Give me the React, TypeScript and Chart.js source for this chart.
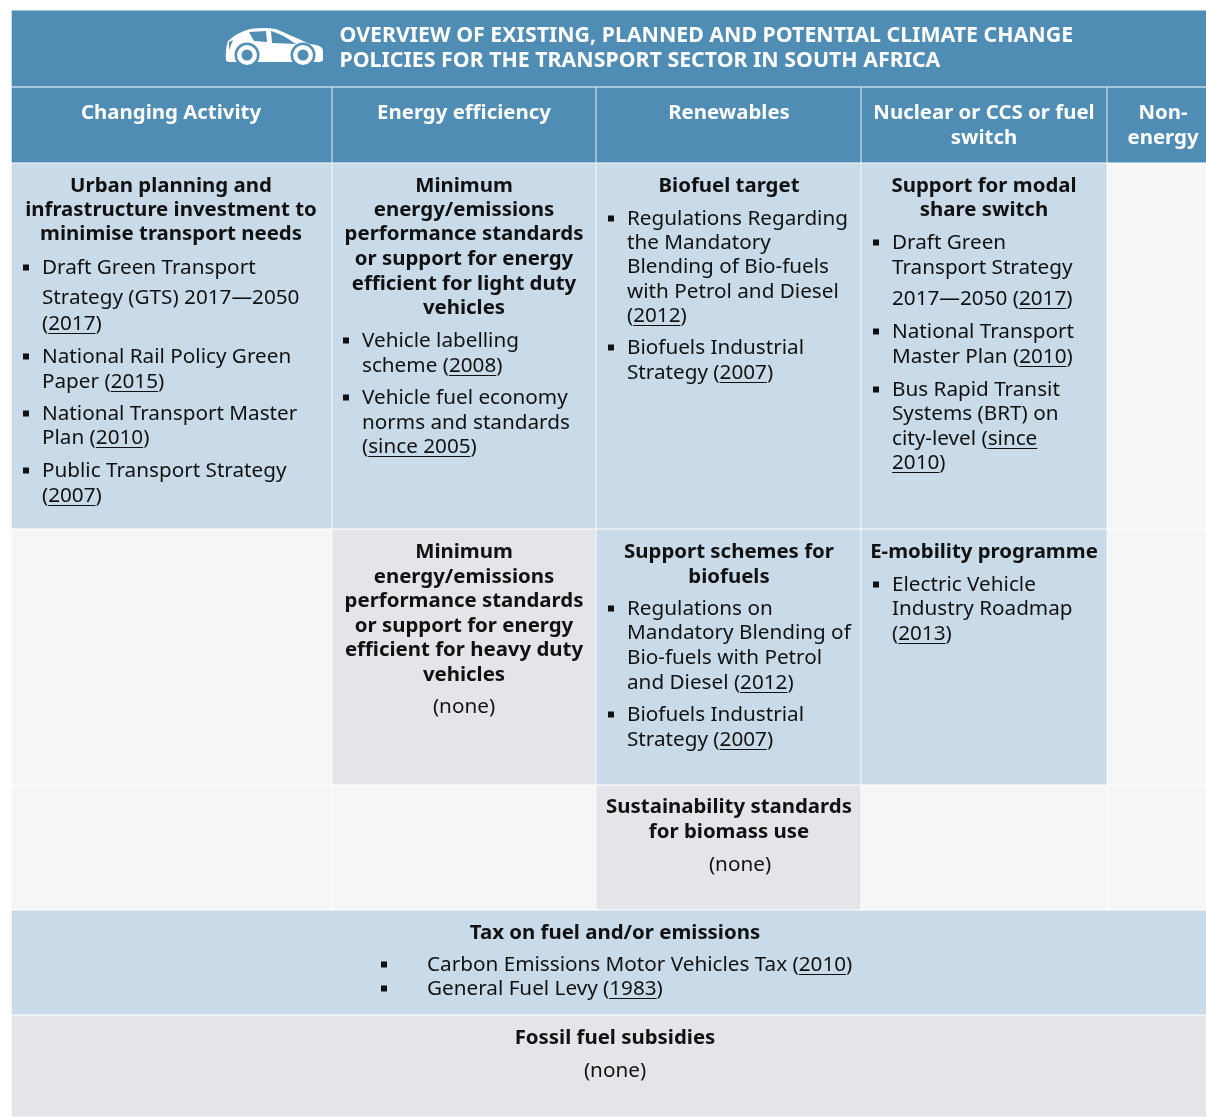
import React, { useEffect, useRef } from "react";
import { Chart, registerables } from "chart.js";

Chart.register(...registerables);

// ---------- content ----------
const titleLines = [
  "OVERVIEW OF EXISTING, PLANNED AND POTENTIAL CLIMATE CHANGE",
  "POLICIES FOR THE TRANSPORT SECTOR IN SOUTH AFRICA",
];
const columnHeads = [
  ["Changing Activity"],
  ["Energy efficiency"],
  ["Renewables"],
  ["Nuclear or CCS or fuel", "switch"],
  ["Non-", "energy"],
];
// Square brackets mark the underlined part of a line; a leading "* " marks a bullet.
const urbanPlanning = [
  "Urban planning and", "infrastructure investment to", "minimise transport needs",
  "* Draft Green Transport", "Strategy (GTS) 2017—2050", "([2017])",
  "* National Rail Policy Green", "Paper ([2015])",
  "* National Transport Master", "Plan ([2010])",
  "* Public Transport Strategy", "([2007])",
];
const lightDuty = [
  "Minimum", "energy/emissions", "performance standards", "or support for energy", "efficient for light duty", "vehicles",
  "* Vehicle labelling", "scheme ([2008])",
  "* Vehicle fuel economy", "norms and standards", "([since 2005])",
];
const biofuelTarget = [
  "Biofuel target",
  "* Regulations Regarding", "the Mandatory", "Blending of Bio-fuels", "with Petrol and Diesel", "([2012])",
  "* Biofuels Industrial", "Strategy ([2007])",
];
const modalShare = [
  "Support for modal", "share switch",
  "* Draft Green", "Transport Strategy", "2017—2050 ([2017])",
  "* National Transport", "Master Plan ([2010])",
  "* Bus Rapid Transit", "Systems (BRT) on", "city-level ([since]", "[2010])",
];
const heavyDuty = [
  "Minimum", "energy/emissions", "performance standards", "or support for energy", "efficient for heavy duty", "vehicles",
  "(none)",
];
const biofuelSupport = [
  "Support schemes for", "biofuels",
  "* Regulations on", "Mandatory Blending of", "Bio-fuels with Petrol", "and Diesel ([2012])",
  "* Biofuels Industrial", "Strategy ([2007])",
];
const eMobility = ["E-mobility programme", "* Electric Vehicle", "Industry Roadmap", "([2013])"];
const biomass = ["Sustainability standards", "for biomass use", "(none)"];
const fuelTax = ["Tax on fuel and/or emissions", "* Carbon Emissions Motor Vehicles Tax ([2010])", "* General Fuel Levy ([1983])"];
const fossilSubsidies = ["Fossil fuel subsidies", "(none)"];

// Cell status by row: H header, E existing, N none, B blank; each entry is [status, column span].
const rowCells: [string, number][][] = [
  [["H", 5]],
  [["H", 1], ["H", 1], ["H", 1], ["H", 1], ["H", 1]],
  [["E", 1], ["E", 1], ["E", 1], ["E", 1], ["B", 1]],
  [["B", 1], ["N", 1], ["E", 1], ["E", 1], ["B", 1]],
  [["B", 1], ["B", 1], ["N", 1], ["B", 1], ["B", 1]],
  [["E", 5]],
  [["N", 5]],
];

// ---------- layout and style ----------
const colEdges = [12, 332, 596, 861, 1107, 1206];
const rowEdges = [10, 87, 163, 529, 785, 910, 1015, 1117];
const FILL: Record<string, string> = { H: "#4f8db5", E: "#c9dbe8", N: "#e4e5e8", B: "#f5f7f7" };
const FONT = '"Noto Sans"';
const BODY = `400 20.7px ${FONT}`;
const BOLD = `700 20.4px ${FONT}`;
const INK = "#111111";

type Block = { lines: string[]; cx: number; boldCount: number; ys: number[]; textX?: number; bulletX?: number; normalCx?: number };
const blocks: Block[] = [
  { lines: urbanPlanning, cx: 171, boldCount: 3, textX: 42, bulletX: 26, ys: [185, 209, 233, 267, 297, 323, 356, 381, 413, 437, 470, 495] },
  { lines: lightDuty, cx: 464, boldCount: 6, textX: 362, bulletX: 346, ys: [185, 209, 233, 258, 283, 307, 340, 365, 397, 422, 446] },
  { lines: biofuelTarget, cx: 729, boldCount: 1, textX: 627, bulletX: 611, ys: [185, 218, 242, 266, 291, 315, 347, 372] },
  { lines: modalShare, cx: 984, boldCount: 2, textX: 892, bulletX: 876, ys: [185, 209, 242, 267, 298, 331, 356, 389, 413, 438, 462] },
  { lines: heavyDuty, cx: 464, boldCount: 6, ys: [551, 576, 600, 625, 649, 674, 706] },
  { lines: biofuelSupport, cx: 729, boldCount: 2, textX: 627, bulletX: 611, ys: [551, 576, 608, 632, 657, 682, 714, 739] },
  { lines: eMobility, cx: 984, boldCount: 1, textX: 892, bulletX: 876, ys: [551, 584, 608, 633] },
  { lines: biomass, cx: 729, boldCount: 2, normalCx: 740, ys: [806, 831, 864] },
  { lines: fuelTax, cx: 615, boldCount: 1, textX: 427, bulletX: 384, ys: [932, 964, 988] },
  { lines: fossilSubsidies, cx: 615, boldCount: 1, ys: [1037, 1070] },
];
const headY = [112, 137];
const headCx = [171, 464, 729, 984, 1163];
const titleX = 339.5;
const titleY = [35.5, 60.5];
const TEXT_NUDGE = 1;

// One dataset per table row: every cell is a floating horizontal bar on the shared scales.
function buildDatasets() {
  return rowCells.map((cells, r) => {
    let col = 0;
    const data: { x: [number, number]; y: number }[] = [];
    const colors: string[] = [];
    cells.forEach(([status, span]) => {
      data.push({ x: [colEdges[col] + (col === 0 ? 0 : 0.75), colEdges[col + span] - (col + span === 5 ? 0 : 0.75)], y: (rowEdges[r] + rowEdges[r + 1]) / 2 });
      colors.push(FILL[status]);
      col += span;
    });
    return {
      type: "bar" as const,
      data,
      backgroundColor: colors,
      barThickness: rowEdges[r + 1] - rowEdges[r] - 1.5,
      grouped: false,
      borderWidth: 0,
    };
  });
}

function drawRuns(ctx: CanvasRenderingContext2D, line: string, x: number, y: number, color: string) {
  const parts = line.split(/(\[[^\]]*\])/).filter(Boolean);
  let px = x;
  ctx.fillStyle = color;
  ctx.strokeStyle = color;
  parts.forEach((p) => {
    const under = p.startsWith("[");
    const t = under ? p.slice(1, -1) : p;
    ctx.fillText(t, px, y);
    const w = ctx.measureText(t).width;
    if (under) {
      ctx.lineWidth = 1;
      ctx.beginPath();
      ctx.moveTo(px, Math.round(y + 9) + 0.5);
      ctx.lineTo(px + w, Math.round(y + 9) + 0.5);
      ctx.stroke();
    }
    px += w;
  });
}
const plain = (s: string) => s.replace(/[\[\]]/g, "");

function centered(ctx: CanvasRenderingContext2D, line: string, cx: number, y: number, color: string) {
  const w = ctx.measureText(plain(line)).width;
  drawRuns(ctx, line, cx - w / 2, y, color);
}

function drawCar(ctx: CanvasRenderingContext2D, X: (v: number) => number, Y: (v: number) => number) {
  const ox = X(226), oy = Y(28);
  ctx.save();
  ctx.translate(ox, oy);
  ctx.fillStyle = "#ffffff";
  const body = new Path2D("M0 32 Q-1 22 2 13 Q12 4 24 1 Q38 -1 50 1 Q66 8 84 16 Q96 17 97 22 L97 32 Q97 34 90 34 L5 34 Q0 34 0 32 Z");
  ctx.fill(body);
  ctx.fillStyle = FILL.H;
  ctx.fill(new Path2D("M23 4 L40 3 L41 14 L28 13 Z"));
  ctx.fill(new Path2D("M45 3 Q56 6 70 16 L46 15 Z"));
  ctx.fill(new Path2D("M3 14 L7 12 L3 22 Z"));
  [21, 77].forEach((cx) => {
    ctx.fillStyle = FILL.H;
    ctx.beginPath(); ctx.arc(cx, 27, 12.5, 0, Math.PI * 2); ctx.fill();
    ctx.fillStyle = "#ffffff";
    ctx.beginPath(); ctx.arc(cx, 27, 10, 0, Math.PI * 2); ctx.fill();
    ctx.fillStyle = FILL.H;
    ctx.beginPath(); ctx.arc(cx, 27, 5.5, 0, Math.PI * 2); ctx.fill();
  });
  ctx.restore();
}

const tablePlugin = {
  id: "tableText",
  afterDatasetsDraw(chart: any) {
    const ctx: CanvasRenderingContext2D = chart.ctx;
    const X = (v: number) => chart.scales.x.getPixelForValue(v);
    const Y = (v: number) => chart.scales.y.getPixelForValue(v);
    ctx.save();
    ctx.textBaseline = "middle";
    ctx.textAlign = "left";

    ctx.font = `700 21.33px ${FONT}`;
    titleLines.forEach((l, i) => drawRuns(ctx, l, X(titleX), Y(titleY[i]), "#ffffff"));
    drawCar(ctx, X, Y);

    ctx.font = BOLD;
    columnHeads.forEach((lines, c) =>
      lines.forEach((l, i) => centered(ctx, l, X(headCx[c]), Y(headY[i] + TEXT_NUDGE), "#ffffff")),
    );

    blocks.forEach((b) => {
      b.lines.forEach((l, i) => {
        const y = Y(b.ys[i] + TEXT_NUDGE);
        if (i < b.boldCount) {
          ctx.font = BOLD;
          centered(ctx, l, X(b.cx), y, INK);
          return;
        }
        ctx.font = BODY;
        if (b.textX === undefined) {
          centered(ctx, l, X(b.normalCx ?? b.cx), y, INK);
          return;
        }
        const bullet = l.startsWith("* ");
        if (bullet) {
          ctx.fillStyle = INK;
          ctx.fillRect(X(b.bulletX!) - 3, y - 3.5, 6, 6);
        }
        drawRuns(ctx, bullet ? l.slice(2) : l, X(b.textX), y, INK);
      });
    });
    ctx.restore();
  },
};

export default function App() {
  const ref = useRef<HTMLCanvasElement>(null);
  useEffect(() => {
    const chart = new Chart(ref.current!, {
      type: "bar",
      data: { datasets: buildDatasets() as any },
      options: {
        indexAxis: "y",
        animation: false,
        responsive: false,
        layout: { padding: 0 },
        plugins: { legend: { display: false }, tooltip: { enabled: false }, title: { display: false } },
        scales: {
          x: { type: "linear", min: 0, max: 1206, display: false },
          y: { type: "linear", min: 0, max: 1117, reverse: true, display: false, offset: false },
        },
      },
      plugins: [tablePlugin],
    } as any);
    return () => chart.destroy();
  }, []);
  return (
    <div style={{ position: "absolute", left: 0, top: 0, width: 1206, height: 1117, background: "#ffffff" }}>
      <canvas ref={ref} width={1206} height={1117} style={{ display: "block" }} />
    </div>
  );
}
